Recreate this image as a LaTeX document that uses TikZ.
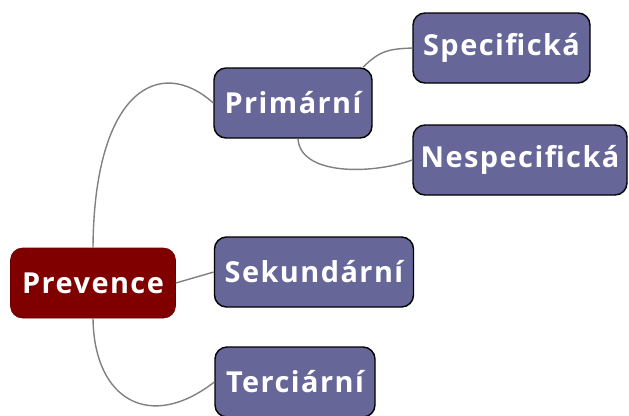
\documentclass[tikz,border=0pt]{standalone}
\usepackage{fontspec}
\setmainfont{Open Sans}[LetterSpace=5]
\usetikzlibrary{calc}
\definecolor{rootred}{HTML}{800000}
\definecolor{leafblue}{HTML}{666699}
\tikzset{
	topic/.style={rectangle, rounded corners=12bp, fill=rootred, draw=rootred!80!black, line width=0.6bp, text=white, font=\fontsize{29}{31}\selectfont\bfseries, minimum height=70bp, inner sep=0pt},
	subtopic/.style={rectangle, rounded corners=12bp, fill=leafblue, draw=black, line width=1.4bp, text=white, font=\fontsize{29}{31}\selectfont\bfseries, minimum height=70bp, inner sep=0pt},
	branch/.style={draw=black!50, line width=1.4bp}
}

\begin{document}
\begin{tikzpicture}[x=1bp, y=-1bp]
			%%%%% START %%%%%
			\useasboundingbox (0, 0) rectangle (629, 415);
			
			\node[topic, minimum width=165bp] (prevence) at (93, 283) {Prevence};
			
			\node[subtopic, minimum width=158bp] (primarni) at (293, 103) {Primární};
			\node[subtopic, minimum width=199bp] (sekundarni) at (314, 272) {Sekundární};
			\node[subtopic, minimum width=160bp] (terciarni) at (295, 382) {Terciární};
			
			\node[subtopic, minimum width=177bp] (specificka) at (501.5, 48) {Specifická};
			\node[subtopic, minimum width=214bp] (nespecificka) at (520, 160) {Nespecifická};
			
			\draw[branch] (prevence.north) .. controls (94, 90) and (160, 55) .. (primarni.west);
			\draw[branch] (prevence.east) -- (sekundarni.west);
			\draw[branch] (prevence.south) .. controls (94, 400) and (150, 432) .. (terciarni.west);
			
			\draw[branch] (primarni.27) .. controls (380, 50) and (390, 49) .. (specificka.west);
			\draw[branch] (primarni.-82) .. controls (300, 175) and (370, 175) .. (nespecificka.west);
			
			%%%%% END %%%%%
		\end{tikzpicture}
\end{document}
